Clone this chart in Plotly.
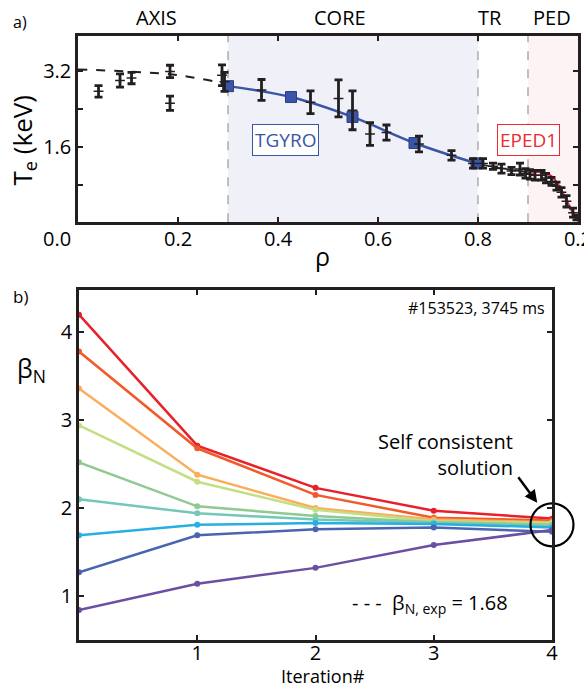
import plotly.graph_objects as go

FONT = "Open Sans"

# ---------------- Panel a) data ----------------
axis_rho = [0.0, 0.1, 0.2, 0.3]
axis_te = [3.24, 3.2, 3.12, 2.93]

tgyro_rho = [0.30, 0.426, 0.549, 0.673, 0.797]
tgyro_te = [2.89, 2.66, 2.24, 1.69, 1.26]

tr_rho = [0.797, 0.85, 0.90]
tr_te = [1.26, 1.15, 1.08]

eped_rho = [0.90, 0.92, 0.944, 0.957, 0.974, 0.987, 1.0]
eped_te = [1.08, 1.08, 1.01, 0.87, 0.55, 0.27, 0.04]

exp_rho = [0.041, 0.084, 0.107, 0.184, 0.184, 0.288, 0.293, 0.367, 0.465,
           0.521, 0.549, 0.584, 0.617, 0.682, 0.747, 0.79, 0.81, 0.83, 0.847,
           0.867, 0.884, 0.895, 0.904, 0.914, 0.927, 0.936, 0.947, 0.957,
           0.967, 0.977, 0.99, 0.997]
exp_te = [2.78, 3.01, 3.06, 3.20, 2.53, 3.12, 2.98, 2.81, 2.55,
          2.63, 2.38, 1.88, 1.91, 1.67, 1.43, 1.26, 1.26, 1.20, 1.15,
          1.10, 1.14, 1.05, 1.03, 1.01, 1.01, 0.95, 0.88, 0.78,
          0.65, 0.46, 0.22, 0.12]
exp_err = [0.12, 0.14, 0.12, 0.13, 0.15, 0.22, 0.20, 0.22, 0.24,
           0.39, 0.41, 0.24, 0.16, 0.165, 0.10, 0.10, 0.10, 0.065, 0.095,
           0.075, 0.125, 0.10, 0.10, 0.10, 0.10, 0.10, 0.085, 0.085,
           0.10, 0.12, 0.095, 0.05]

x_a_tickvals = [0.0, 0.2, 0.4, 0.6, 0.8, 1.0]
x_a_ticktext = ["", "0.2", "0.4", "0.6", "0.8", "0.2"]
x_a_origin_label = "0.0"
y_a_tickvals = [0.8, 1.6, 2.4, 3.2]
y_a_ticktext = ["", "1.6", "", "3.2"]

regions = ["AXIS", "CORE", "TR", "PED"]
region_pos = [0.157, 0.524, 0.825, 0.948]

# ---------------- Panel b) data ----------------
iterations = [0, 1, 2, 3, 4]
beta_series = [
    [4.20, 2.71, 2.23, 1.97, 1.88],
    [3.78, 2.68, 2.15, 1.89, 1.86],
    [3.36, 2.38, 2.00, 1.87, 1.84],
    [2.94, 2.30, 1.98, 1.85, 1.83],
    [2.52, 2.02, 1.91, 1.84, 1.81],
    [2.10, 1.94, 1.87, 1.83, 1.79],
    [1.69, 1.81, 1.83, 1.82, 1.78],
    [1.27, 1.69, 1.76, 1.78, 1.73],
    [0.84, 1.14, 1.32, 1.58, 1.75],
]
beta_colors = ["#e8202a", "#f15a2b", "#fbad5a", "#c5dd84", "#8fca90",
               "#72c8b8", "#27aee3", "#4a64b0", "#6a4fa2"]
solution_point = [4, 1.81]
beta_exp = 1.68

fig = go.Figure()

BLUE = "#3a55a8"
RED = "#ee2a2f"
INK = "#231f20"

# panel a traces
fig.add_trace(go.Scatter(x=axis_rho, y=axis_te, mode="lines", line=dict(color=INK, width=2, dash="dash", shape="spline"),
                         xaxis="x", yaxis="y", showlegend=False, hoverinfo="skip"))
fig.add_trace(go.Scatter(x=tr_rho, y=tr_te, mode="lines", line=dict(color=INK, width=1.5, shape="spline"),
                         xaxis="x", yaxis="y", showlegend=False, hoverinfo="skip"))
fig.add_trace(go.Scatter(x=tgyro_rho, y=tgyro_te, mode="lines", line=dict(color=BLUE, width=2.5, shape="spline"),
                         xaxis="x", yaxis="y", showlegend=False))
fig.add_trace(go.Scatter(x=eped_rho, y=eped_te, mode="lines", line=dict(color=RED, width=2.2, shape="spline"),
                         xaxis="x", yaxis="y", showlegend=False))
fig.add_trace(go.Scatter(x=tgyro_rho, y=tgyro_te, mode="markers",
                         marker=dict(symbol="square", size=11, color=BLUE, line=dict(color="#2b3f85", width=1)),
                         xaxis="x", yaxis="y", showlegend=False))
fig.add_trace(go.Scatter(x=exp_rho, y=exp_te, mode="markers",
                         marker=dict(symbol="line-ew-open", size=7, color=INK, line=dict(color=INK, width=1.5)),
                         error_y=dict(type="data", array=exp_err, visible=True, color=INK, thickness=2.8, width=4),
                         xaxis="x", yaxis="y", showlegend=False))

# panel b traces
for vals, col in zip(beta_series, beta_colors):
    fig.add_trace(go.Scatter(x=iterations, y=vals, mode="lines+markers",
                             line=dict(color=col, width=2.5), marker=dict(color=col, size=6),
                             xaxis="x2", yaxis="y2", showlegend=False, cliponaxis=False))
fig.add_trace(go.Scatter(x=[solution_point[0]], y=[solution_point[1]], mode="markers",
                         marker=dict(symbol="circle-open", size=43, color="black", line=dict(color="black", width=2.2)),
                         xaxis="x2", yaxis="y2", showlegend=False, cliponaxis=False))

# shapes
shapes = [
    dict(type="rect", xref="x", yref="y domain", x0=0.3, x1=0.8, y0=0, y1=1,
         fillcolor="#f0f0f8", line=dict(width=0), layer="below"),
    dict(type="rect", xref="x", yref="y domain", x0=0.9, x1=1.0, y0=0, y1=1,
         fillcolor="#fdf3f5", line=dict(width=0), layer="below"),
]
for xv in [0.3, 0.8, 0.9]:
    shapes.append(dict(type="line", xref="x", yref="y domain", x0=xv, x1=xv, y0=0, y1=1,
                       line=dict(color="#a0a0a0", width=1.3, dash="dash"), layer="below"))


def pa(text, px, py, size, **kw):
    d = dict(text=text, x=px / 584, y=(690 - py) / 690, xref="paper", yref="paper", showarrow=False,
             xanchor="center", yanchor="middle", font=dict(size=size, color="black", family=FONT))
    d.update(kw)
    return d


ann = []
for name, pos in zip(regions, region_pos):
    ann.append(dict(text=name, x=pos, y=0.974, xref="x", yref="paper", showarrow=False,
                    font=dict(size=20, color="black", family=FONT), xanchor="center", yanchor="middle"))
ann += [
    pa(x_a_origin_label, 57, 238, 20),
    pa("a)", 19.5, 22, 16),
    pa("b)", 20, 296, 17),
    pa("T<sub>e</sub> (keV)", 22.5, 141, 26, textangle=-90),
    pa("ρ", 322, 256, 25),
    pa("β<sub>N</sub>", 31, 370, 25),
    pa("Iteration#", 323, 676, 18),
    dict(text="TGYRO", x=0.414, y=1.75, xref="x", yref="y", showarrow=False,
         font=dict(size=19, color=BLUE, family=FONT), bordercolor=BLUE, borderwidth=1, borderpad=2,
         bgcolor="white"),
    dict(text="EPED1", x=0.902, y=1.75, xref="x", yref="y", showarrow=False,
         font=dict(size=19, color=RED, family=FONT), bordercolor=RED, borderwidth=1, borderpad=2,
         bgcolor="white"),
    dict(text="#153523, 3745 ms", x=0.99, y=0.95, xref="x2 domain", yref="y2 domain", showarrow=False,
         xanchor="right", yanchor="middle", font=dict(size=16, color="black", family=FONT)),
    dict(text="Self consistent<br>solution", x=3.69, y=2.61, xref="x2", yref="y2", showarrow=False,
         xanchor="right", yanchor="middle", align="right", font=dict(size=20, color="black", family=FONT)),
    dict(text="", x=3.875, y=2.06, xref="x2", yref="y2", showarrow=True, arrowhead=2, arrowsize=1,
         arrowwidth=2.5, arrowcolor="black", ax=-20, ay=-27, standoff=0),
    dict(text="- - -  β<sub>N, exp</sub> = " + f"{beta_exp:.2f}", x=0.6, y=0.126, xref="paper", yref="paper",
         showarrow=False, xanchor="left", yanchor="middle", font=dict(size=20, color="black", family=FONT)),
]

axis_common = dict(showline=True, linecolor=INK, linewidth=2.5, mirror="allticks", showgrid=False, zeroline=False,
                   ticks="inside", ticklen=5, tickwidth=1.5, tickcolor=INK, automargin=False,
                   ticklabeloverflow="allow",
                   tickfont=dict(size=20, color="black", family=FONT))

fig.update_layout(
    width=584, height=690, margin=dict(l=0, r=0, t=0, b=0),
    paper_bgcolor="white", plot_bgcolor="white",
    font=dict(family=FONT, color="black"),
    xaxis=dict(domain=[0.1336, 0.9897], range=[0, 1], anchor="y", tickvals=x_a_tickvals,
               ticktext=x_a_ticktext, ticklabelstandoff=-3, **axis_common),
    yaxis=dict(domain=[0.678, 0.948], range=[0.02, 3.95], anchor="x", tickvals=y_a_tickvals,
               ticktext=y_a_ticktext, **axis_common),
    xaxis2=dict(domain=[0.1353, 0.9452], range=[0, 4], anchor="y2", tickvals=[1, 2, 3, 4],
                ticklabelstandoff=-7, **axis_common),
    yaxis2=dict(domain=[0.0725, 0.5797], range=[0.5, 4.48], anchor="x2", tickvals=[1, 2, 3, 4],
                **axis_common),
    shapes=shapes,
    annotations=ann,
)

fig.write_html("out.html")
